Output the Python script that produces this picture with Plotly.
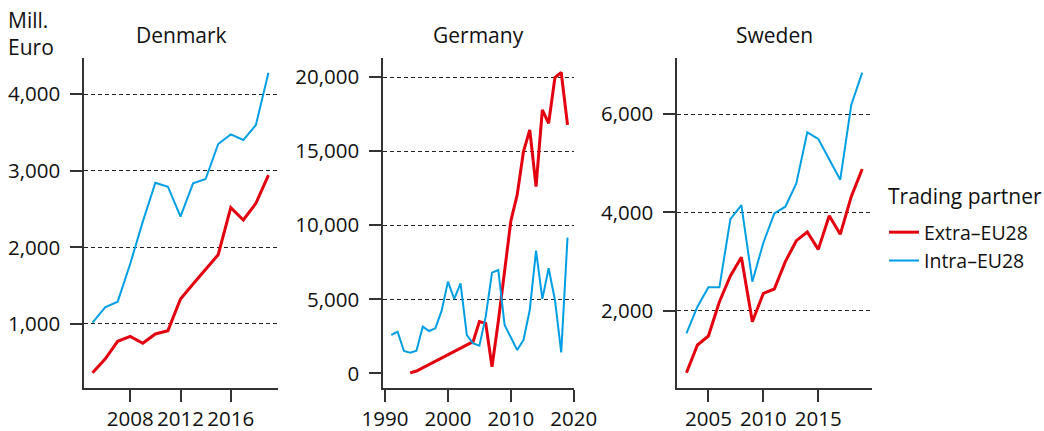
import plotly.graph_objects as go

# ---------------- data ----------------
dk_years = list(range(2005, 2020))
dk_extra = [365, 543, 774, 839, 748, 870, 913, 1326, 1522, 1713, 1904, 2517, 2357, 2574, 2943]
dk_intra = [1017, 1217, 1291, 1785, 2335, 2843, 2791, 2400, 2835, 2891, 3348, 3474, 3400, 3596, 4278]

de_extra_years = [1994, 1995, 2004, 2005, 2006, 2007, 2008, 2009, 2010, 2011, 2012, 2013, 2014, 2015, 2016, 2017, 2018, 2019]
de_extra = [30, 158, 2140, 3491, 3378, 450, 3500, 6900, 10300, 12050, 14980, 16440, 12610, 17790, 16890, 19980, 20320, 16780]
de_intra_years = list(range(1991, 2020))
de_intra = [2590, 2815, 1509, 1396, 1532, 3153, 2860, 3040, 4234, 6194, 5023, 6081, 2590, 2027, 1869,
            3829, 6802, 6982, 3266, 2410, 1577, 2252, 4279, 8288, 5023, 7095, 4955, 1419, 9167]

se_years = list(range(2003, 2020))
se_extra = [739, 1302, 1485, 2183, 2705, 3085, 1776, 2353, 2441, 2997, 3424, 3600, 3247, 3932, 3553, 4319, 4881]
se_intra = [1539, 2081, 2475, 2475, 3864, 4149, 2590, 3383, 3980, 4115, 4590, 5627, 5492, 5080, 4665, 6183, 6841]

countries = ["Denmark", "Germany", "Sweden"]
series_names = ["Extra\u2013EU28", "Intra\u2013EU28"]
legend_title = "Trading partner"
unit_label = "Mill.<br>Euro"

dk_xticks = [2008, 2012, 2016]
dk_yticks = [1000, 2000, 3000, 4000]
de_xticks = [1990, 2000, 2010, 2020]
de_yticks = [0, 5000, 10000, 15000, 20000]
de_ygrid = [5000, 10000, 15000, 20000]
se_xticks = [2005, 2010, 2015]
se_yticks = [2000, 4000, 6000]

# ---------------- styling ----------------
RED = "#E3000F"
BLUE = "#009FE3"
FONT = "Open Sans"
TXT = "#111111"
AX = "#333333"
W, H = 1044, 431


def px_x(p):
    return p / W


def px_y(p):
    return 1 - p / H


fig = go.Figure()

panels = [
    dict(name=countries[0], xa="x", ya="y", ex=(dk_years, dk_extra), inn=(dk_years, dk_intra)),
    dict(name=countries[1], xa="x2", ya="y2", ex=(de_extra_years, de_extra), inn=(de_intra_years, de_intra)),
    dict(name=countries[2], xa="x3", ya="y3", ex=(se_years, se_extra), inn=(se_years, se_intra)),
]

for i, p in enumerate(panels):
    fig.add_trace(go.Scatter(x=p["ex"][0], y=p["ex"][1], mode="lines", name=series_names[0],
                             line=dict(color=RED, width=3), xaxis=p["xa"], yaxis=p["ya"],
                             legendgroup="extra", showlegend=(i == 0)))
    fig.add_trace(go.Scatter(x=p["inn"][0], y=p["inn"][1], mode="lines", name=series_names[1],
                             line=dict(color=BLUE, width=2), xaxis=p["xa"], yaxis=p["ya"],
                             legendgroup="intra", showlegend=(i == 0)))

# helper trace on the overlay axis carrying Germany's gridlines (no grid at 0)
fig.add_trace(go.Scatter(x=[None], y=[None], xaxis="x2", yaxis="y4", showlegend=False, hoverinfo="skip"))

ydom = [px_y(388), px_y(58)]
xdoms = [[px_x(84), px_x(278)], [px_x(383), px_x(574)], [px_x(677), px_x(872)]]

tickfont = dict(family=FONT, size=20.5, color=TXT)
common_x = dict(showline=True, linecolor=AX, linewidth=1.5, ticks="outside", ticklen=12,
                tickwidth=1.5, tickcolor=AX, showgrid=False, zeroline=False, automargin=False,
                tickfont=tickfont, ticklabelstandoff=0)
common_y = dict(showline=True, linecolor=AX, linewidth=1.5, ticks="outside", ticklen=12,
                tickwidth=1.5, tickcolor=AX, zeroline=False, tickformat=",", automargin=False,
                tickfont=tickfont, ticklabelstandoff=6,
                gridcolor="#222", gridwidth=1, griddash="4px,3px")

fig.update_layout(
    xaxis=dict(common_x, domain=xdoms[0], range=[2004.32, 2019.76], tickvals=dk_xticks, anchor="y"),
    yaxis=dict(common_y, domain=ydom, range=[165, 4470], tickvals=dk_yticks, showgrid=True, anchor="x"),
    xaxis2=dict(common_x, domain=xdoms[1], range=[1989.68, 2020.03], tickvals=de_xticks, anchor="y2"),
    yaxis2=dict(common_y, domain=ydom, range=[-990, 21300], tickvals=de_yticks, showgrid=False, anchor="x2"),
    yaxis4=dict(overlaying="y2", anchor="x2", range=[-990, 21300], tickvals=de_ygrid, automargin=False,
                showticklabels=False, ticks="", showline=False, zeroline=False, showgrid=True,
                gridcolor="#222", gridwidth=1, griddash="4px,3px"),
    xaxis3=dict(common_x, domain=xdoms[2], range=[2002.14, 2019.89], tickvals=se_xticks, anchor="y3"),
    yaxis3=dict(common_y, domain=ydom, range=[428, 7139], tickvals=se_yticks, showgrid=True, anchor="x3"),
)

# panel titles
for p, dom in zip(panels, xdoms):
    fig.add_annotation(text=p["name"], x=(dom[0] + dom[1]) / 2, y=px_y(35), xref="paper", yref="paper",
                       showarrow=False, xanchor="center", yanchor="middle",
                       font=dict(family=FONT, size=21, color=TXT))

fig.add_annotation(text=unit_label, x=px_x(6), y=px_y(4), xref="paper", yref="paper",
                   showarrow=False, xanchor="left", yanchor="top", align="left",
                   font=dict(family=FONT, size=21, color=TXT))

# legend title
fig.add_annotation(text=legend_title, x=px_x(886), y=px_y(196), xref="paper", yref="paper",
                   showarrow=False, xanchor="left", yanchor="middle", align="left",
                   font=dict(family=FONT, size=21, color=TXT))

fig.update_layout(
    width=W, height=H,
    margin=dict(l=0, r=0, t=0, b=0, pad=0, autoexpand=False),
    paper_bgcolor="white", plot_bgcolor="white",
    font=dict(family=FONT, size=20, color=TXT),
    legend=dict(x=px_x(884), y=px_y(213), xanchor="left", yanchor="top",
                font=dict(family=FONT, size=19.5, color=TXT), tracegroupgap=0,
                bgcolor="rgba(0,0,0,0)", borderwidth=0),
)

fig.write_html("out.html", config={"displayModeBar": False},
               post_script="document.body.style.margin='0';document.body.style.overflow='hidden';")
